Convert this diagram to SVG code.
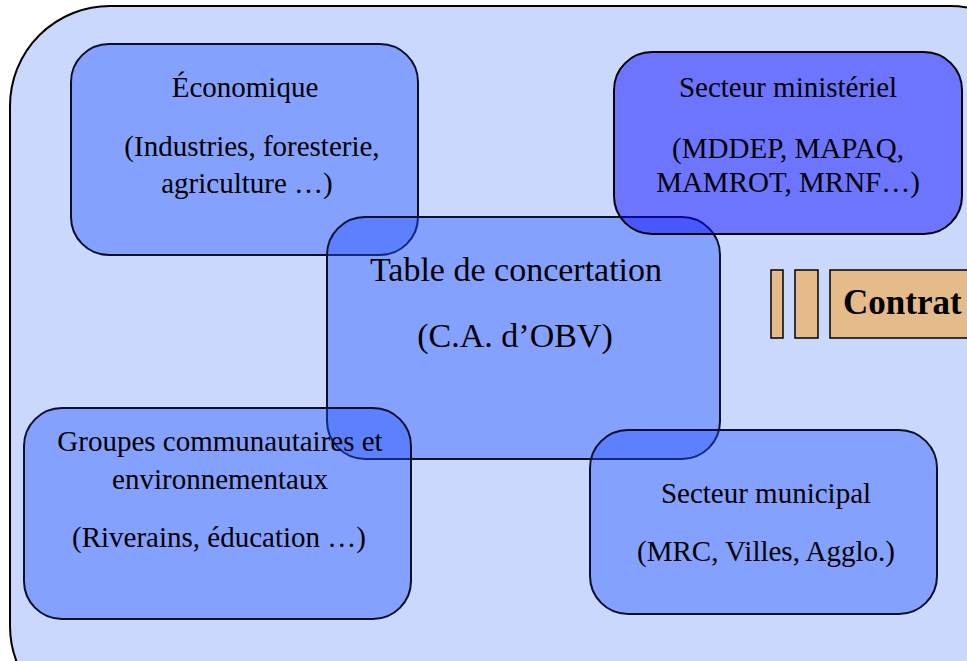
<svg xmlns="http://www.w3.org/2000/svg" width="967" height="661" viewBox="0 0 967 661">
<style>
.box{fill:rgb(30,80,255);fill-opacity:0.4;stroke:#0a0f2a;stroke-width:2}
.min{fill:rgb(0,0,255);fill-opacity:0.46;stroke:#000;stroke-width:2}
.t{font-family:"Liberation Serif",serif;font-size:29px;fill:#000;text-anchor:middle}
.big{font-size:34px}
.k{fill:#e4bb89;stroke:#000;stroke-width:1.5}
</style>
<rect id="outer" x="10" y="6" width="1040" height="720" rx="100" ry="100" fill="#cad8fd" stroke="#000" stroke-width="2"/>
<g id="economique">
<rect class="box" x="71" y="44" width="347" height="211" rx="38"/>
<text class="t" x="245" y="97">Économique</text>
<text class="t" x="252" y="156">(Industries, foresterie,</text>
<text class="t" x="247" y="193">agriculture …)</text>
</g>
<g id="table">
<rect class="box" x="327" y="217" width="393" height="242" rx="38"/>
<text class="t big" x="516" y="281">Table de concertation</text>
<text class="t big" x="515" y="347">(C.A. d’OBV)</text>
</g>
<g id="groupes">
<rect class="box" x="24" y="408" width="387" height="211" rx="38"/>
<text class="t" x="220" y="451">Groupes communautaires et</text>
<text class="t" x="220" y="489">environnementaux</text>
<text class="t" x="219" y="547">(Riverains, éducation …)</text>
</g>
<g id="municipal">
<rect class="box" x="590" y="430" width="347" height="184" rx="38"/>
<text class="t" x="766" y="503">Secteur municipal</text>
<text class="t" x="766" y="561">(MRC, Villes, Agglo.)</text>
</g>
<g id="ministeriel">
<rect class="min" x="614" y="52" width="348" height="182" rx="38"/>
<text class="t" x="788" y="97">Secteur ministériel</text>
<text class="t" x="788" y="158">(MDDEP, MAPAQ,</text>
<text class="t" x="788" y="192">MAMROT, MRNF…)</text>
</g>
<g id="contrat">
<rect class="k" x="771" y="270" width="12" height="68"/>
<rect class="k" x="795" y="270" width="23" height="68"/>
<rect class="k" x="830" y="270" width="160" height="68"/>
<text x="843" y="314" font-family="Liberation Serif, serif" font-size="35" font-weight="bold">Contrat</text>
</g>
<g id="connectors"></g>
</svg>
